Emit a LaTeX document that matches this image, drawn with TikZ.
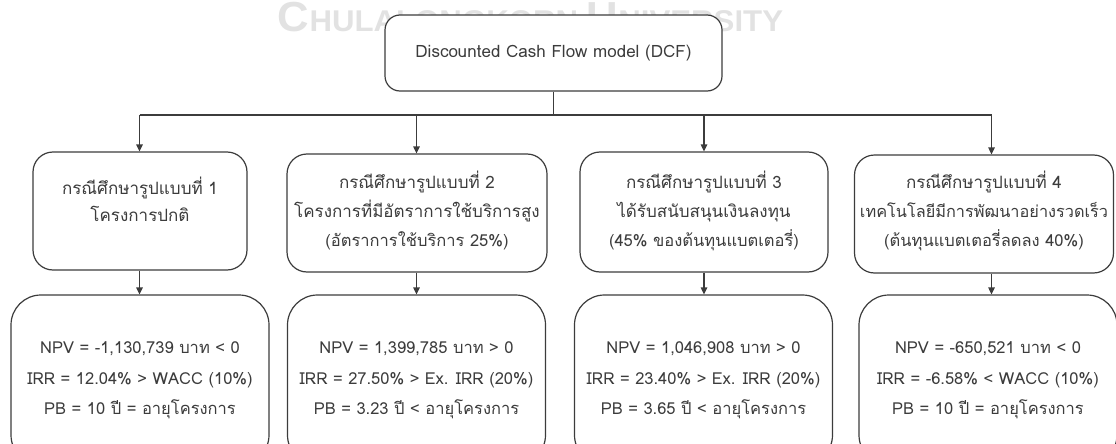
\documentclass[tikz,border=0pt]{standalone}
\usepackage{graphicx}
\usepackage{fontspec}
\setmainfont{Loma}[Script=Thai]
\newfontfamily\markfont{Liberation Sans}
\usetikzlibrary{arrows.meta}
\definecolor{ink}{HTML}{3C3C3C}
\definecolor{wmark}{HTML}{E2E2E2}
\begin{document}
\begin{tikzpicture}[x=1pt,y=-1pt,
  wire/.style={draw=ink,line width=1.2pt},
  arr/.style={wire,-{Triangle[length=7pt,width=6.5pt]}},
  panel/.style={draw=ink,line width=1.2pt,fill=white,inner sep=0pt},
  casebox/.style={panel,rounded corners=20pt},
  resultbox/.style={panel,rounded corners=30pt,minimum width=258pt,minimum height=170pt},
  thai/.style={font=\fontsize{17}{17}\selectfont,text=ink,inner sep=0pt,anchor=base},
  note/.style={thai,font=\fontsize{16.5}{16.5}\selectfont},
  res/.style={font=\fontsize{16.5}{16.5}\selectfont,text=ink,inner sep=0pt,anchor=base}
]
\useasboundingbox (0,0) rectangle (1116,444);
\clip (0,0) rectangle (1116,444);

% faint university watermark behind the title box
\node[anchor=base,text=wmark,inner sep=0pt,font=\markfont\bfseries] (wm) at (530.5,32)
  {\scalebox{1.04}[1]{\fontsize{42}{42}\selectfont C\fontsize{30}{30}\selectfont HULALONGKORN \fontsize{42}{42}\selectfont U\fontsize{30}{30}\selectfont NIVERSITY}};

% title
\node[panel,rounded corners=15pt,minimum width=337pt,minimum height=76pt] (dcf) at (553.5,53) {};
\node[thai] (dcft) at (553.5,58) {Discounted Cash Flow model (DCF)};

% column positions of the connectors
\coordinate (bus) at (0,115);
\coordinate (k1) at (139.5,0);
\coordinate (k2) at (416.5,0);
\coordinate (k3) at (704,0);
\coordinate (k4) at (991.5,0);

% case boxes
\node[casebox,minimum width=214pt,minimum height=118pt] (c1) at (140,211) {};
\node[casebox,minimum width=260pt,minimum height=118pt] (c2) at (417,213) {};
\node[casebox,minimum width=248pt,minimum height=120pt] (c3) at (704,212) {};
\node[casebox,minimum width=259pt,minimum height=118pt] (c4) at (984,214) {};

\node[thai] (c1a) at (140,194) {กรณีศึกษารูปแบบที่ 1};
\node[thai] (c1b) at (140,221) {โครงการปกติ};

\node[thai] (c2a) at (417,188) {กรณีศึกษารูปแบบที่ 2};
\node[thai] (c2b) at (417,217) {โครงการที่มีอัตราการใช้บริการสูง};
\node[note] (c2c) at (417,246) {(อัตราการใช้บริการ 25\%)};

\node[thai] (c3a) at (704,188) {กรณีศึกษารูปแบบที่ 3};
\node[thai] (c3b) at (704,217) {ได้รับสนับสนุนเงินลงทุน};
\node[note] (c3c) at (704,246) {(45\% ของต้นทุนแบตเตอรี่)};

\node[thai] (c4a) at (984,188) {กรณีศึกษารูปแบบที่ 4};
\node[thai,font=\fontsize{16.3}{16.3}\selectfont] (c4b) at (984,217) {เทคโนโลยีมีการพัฒนาอย่างรวดเร็ว};
\node[note] (c4c) at (984,246) {(ต้นทุนแบตเตอรี่ลดลง 40\%)};

% result boxes (run past the lower edge)
\node[resultbox] (r1) at (140,380) {};
\node[resultbox] (r2) at (416.5,380) {};
\node[resultbox] (r3) at (703.5,380) {};
\node[resultbox] (r4) at (988,380) {};

\node[res] (r1a) at (140,353) {NPV = -1,130,739 บาท < 0};
\node[res] (r1b) at (140,384) {IRR = 12.04\% > WACC (10\%)};
\node[res] (r1c) at (140,414) {PB = 10 ปี = อายุโครงการ};

\node[res] (r2a) at (416.5,353) {NPV = 1,399,785 บาท > 0};
\node[res] (r2b) at (416.5,384) {IRR = 27.50\% > Ex. IRR (20\%)};
\node[res] (r2c) at (416.5,414) {PB = 3.23 ปี < อายุโครงการ};

\node[res] (r3a) at (703.5,353) {NPV = 1,046,908 บาท > 0};
\node[res] (r3b) at (703.5,384) {IRR = 23.40\% > Ex. IRR (20\%)};
\node[res] (r3c) at (703.5,414) {PB = 3.65 ปี < อายุโครงการ};

\node[res] (r4a) at (988,353) {NPV = -650,521 บาท < 0};
\node[res] (r4b) at (988,384) {IRR = -6.58\% < WACC (10\%)};
\node[res] (r4c) at (988,414) {PB = 10 ปี = อายุโครงการ};

% connectors
\draw[wire] (dcf.south) -- (dcf.south |- bus);
\draw[wire] (bus -| k1) -- (bus -| k4);
\foreach \i in {1,2,3,4}{
  \draw[arr] (bus -| k\i) -- (k\i |- c\i.north);
  \draw[arr] (k\i |- c\i.south) -- (k\i |- r\i.north);
}
\end{tikzpicture}
\end{document}
